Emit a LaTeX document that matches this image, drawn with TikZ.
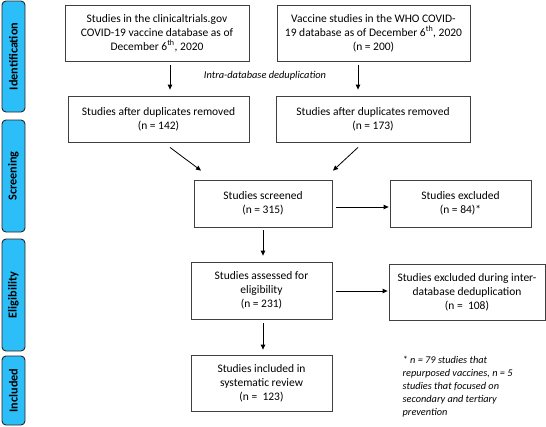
\documentclass[tikz,border=0pt]{standalone}
\usepackage{fontspec}
\setmainfont{Carlito}
\usetikzlibrary{arrows.meta}
\definecolor{sidebar}{RGB}{44,190,248}
\tikzset{
  box/.style={draw=black!75, line width=0.8pt, fill=white, align=center, inner sep=2pt,
    font=\fontsize{11.5}{14}\selectfont},
  side/.style={draw=black!85, line width=0.9pt, fill=sidebar, rounded corners=4pt,
    minimum height=23pt, rotate=90, font=\fontsize{12.2}{13}\selectfont\bfseries, inner sep=0pt},
  arr/.style={-{Triangle[length=5pt,width=4.5pt]}, line width=0.8pt, black},
}
\begin{document}
\begin{tikzpicture}[x=1pt,y=-1pt]
\useasboundingbox (0,0) rectangle (546,426);
% sidebar
\node[side, minimum width=111pt] (sid) at (13.5,56.5) {Identification};
\node[side, minimum width=112pt] (sscr) at (13.5,176) {Screening};
\node[side, minimum width=112pt] (seli) at (13.5,295) {Eligibility};
\node[side, minimum width=69pt] (sinc) at (13.5,390.5) {Included};
% boxes
\node[box, minimum width=184pt, minimum height=56pt] (b1) at (157,33)
  {Studies in the clinicaltrials.gov\\COVID-19 vaccine database as of\\December 6\textsuperscript{th}, 2020};
\node[box, minimum width=193pt, minimum height=56pt] (b2) at (373.5,33)
  {Vaccine studies in the WHO COVID-\\19 database as of December 6\textsuperscript{th}, 2020\\(n = 200)};
\node[box, minimum width=181pt, minimum height=46pt] (d1) at (158.5,119)
  {Studies after duplicates removed\\(n = 142)};
\node[box, minimum width=194pt, minimum height=46pt] (d2) at (373,119)
  {Studies after duplicates removed\\(n = 173)};
\node[box, minimum width=138pt, minimum height=47pt] (scr) at (263,203.5)
  {Studies screened\\(n = 315)};
\node[box, minimum width=141pt, minimum height=47pt] (exc) at (460.5,203.5)
  {Studies excluded\\(n = 84)*};
\node[box, minimum width=141pt, minimum height=57pt] (ass) at (261.5,290.5)
  {Studies assessed for\\eligibility\\(n = 231)};
\node[box, minimum width=156pt, minimum height=56pt] (inter) at (467,292)
  {Studies excluded during inter-\\database deduplication\\(n =\ \ 108)};
\node[box, minimum width=141pt, minimum height=56pt] (inc) at (261.5,383)
  {Studies included in\\systematic review\\(n =\ \ 123)};
% labels
\node[font=\fontsize{10.4}{12}\selectfont\itshape, inner sep=0pt] (intra) at (265,76) {Intra-database deduplication};
\node[font=\fontsize{10.3}{12.9}\selectfont\itshape, align=left, anchor=north west, inner sep=0pt] (foot) at (402.5,356)
  {* n = 79 studies that\\repurposed vaccines, n = 5\\studies that focused on\\secondary and tertiary\\prevention};
% arrows
\draw[arr] ([xshift=13pt,yshift=-4pt]b1.south) -- ([xshift=11.5pt,yshift=6pt]d1.north);
\draw[arr] ([xshift=-15.5pt,yshift=-4pt]b2.south) -- ([xshift=-15pt,yshift=6pt]d2.north);
\draw[arr] ([xshift=11.5pt,yshift=-5pt]d1.south) -- ([xshift=-62pt,yshift=9pt]scr.north);
\draw[arr] ([xshift=-15pt,yshift=-5pt]d2.south) -- ([xshift=70pt,yshift=9pt]scr.north);
\draw[arr] ([xshift=4pt,yshift=-3.5pt]scr.east) -- ([xshift=-1pt,yshift=-3.5pt]exc.west);
\draw[arr] ([yshift=-3pt]scr.south) -- ([xshift=1.5pt,yshift=6pt]ass.north);
\draw[arr] ([xshift=4pt,yshift=-0.5pt]ass.east) -- ([xshift=-1pt,yshift=1pt]inter.west);
\draw[arr] ([xshift=1.5pt,yshift=-4pt]ass.south) -- ([xshift=1.5pt,yshift=5pt]inc.north);
\end{tikzpicture}
\end{document}
